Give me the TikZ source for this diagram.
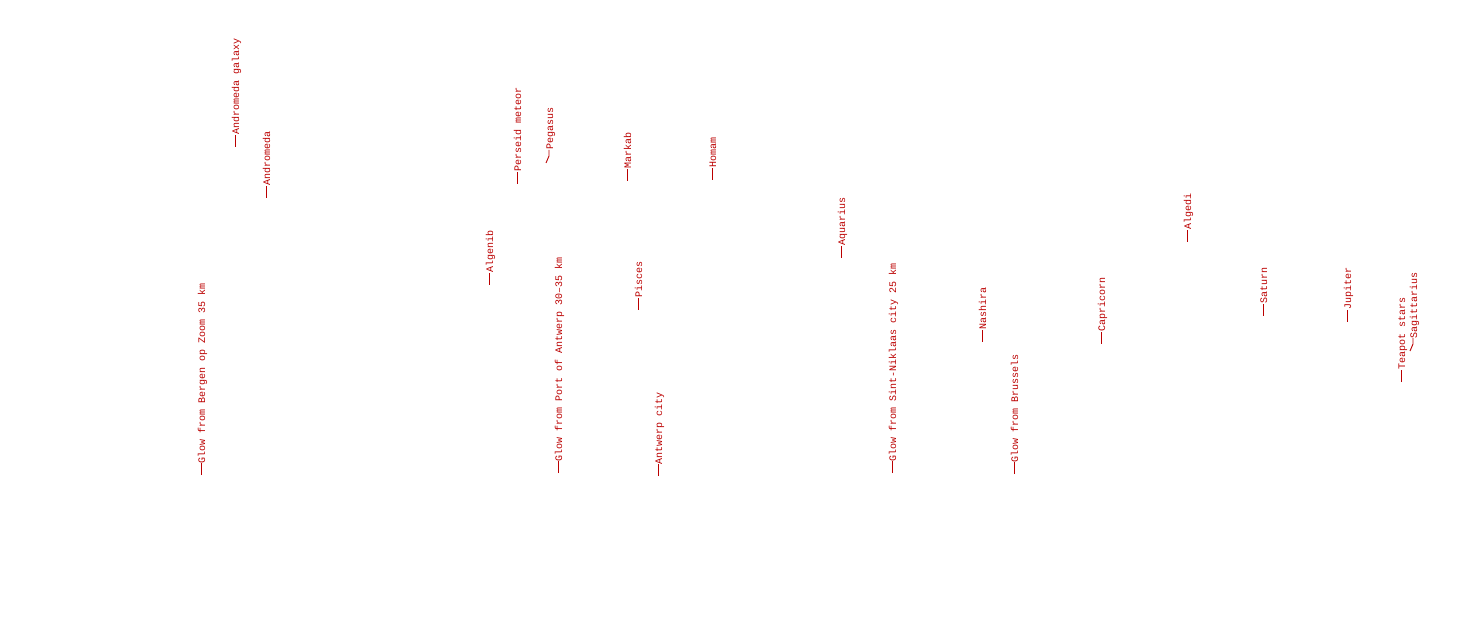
\documentclass[tikz,border=0pt]{standalone}
\usepackage{fontspec}
\setmonofont{Liberation Mono}
\definecolor{labred}{RGB}{187,0,0}
\tikzset{
  lab/.style={rotate=90, anchor=base west, inner sep=0pt, outer sep=0pt,
    text=labred, font=\ttfamily\fontsize{10}{12}\selectfont},
  lead/.style={draw=labred, line width=0.9pt}
}
\newcommand\lbl[4]{%
  \coordinate (#1p) at (#2,#3);
  \coordinate (#1d) at (#2,#3-12);
  \node[lab] (#1) at (#2+4,#3-12) {#4};
  \draw[lead] (#1p) -- (#1d);}
\begin{document}
\begin{tikzpicture}[x=1pt,y=-1pt]
\useasboundingbox (0,0) rectangle (1465,620);
\lbl{bergen}{201}{475}{Glow from Bergen op Zoom 35 km}
\lbl{andgal}{235}{147}{Andromeda galaxy}
\lbl{andr}{266}{198}{Andromeda}
\lbl{algenib}{489}{285}{Algenib}
\lbl{perseid}{517}{184}{Perseid meteor}
\lbl{port}{558}{473}{Glow from Port of Antwerp 30–35 km}
\lbl{markab}{627}{181}{Markab}
\lbl{pisces}{638}{310}{Pisces}
\lbl{antcity}{658}{476}{Antwerp city}
\lbl{homam}{712}{180}{Homam}
\lbl{aquarius}{841}{258}{Aquarius}
\lbl{sint}{892}{473}{Glow from Sint-Niklaas city 25 km}
\lbl{nashira}{982}{342}{Nashira}
\lbl{brussels}{1014}{474}{Glow from Brussels}
\lbl{capri}{1101}{344}{Capricorn}
\lbl{algedi}{1187}{242}{Algedi}
\lbl{saturn}{1263}{316}{Saturn}
\lbl{jupiter}{1347}{322}{Jupiter}
\lbl{teapot}{1401}{382}{Teapot stars}
% displaced labels with slanted leaders
\coordinate (pegp) at (546,163);
\coordinate (pegk) at (549,156);
\coordinate (pegd) at (549,150);
\node[lab] (peg) at (553,150) {Pegasus};
\draw[lead] (pegp) -- (pegk) -- (pegd);
\coordinate (sagp) at (1410,351);
\coordinate (sagk) at (1413,344);
\coordinate (sagd) at (1413,338);
\node[lab] (sag) at (1417,338) {Sagittarius};
\draw[lead] (sagp) -- (sagk) -- (sagd);
\end{tikzpicture}
\end{document}
